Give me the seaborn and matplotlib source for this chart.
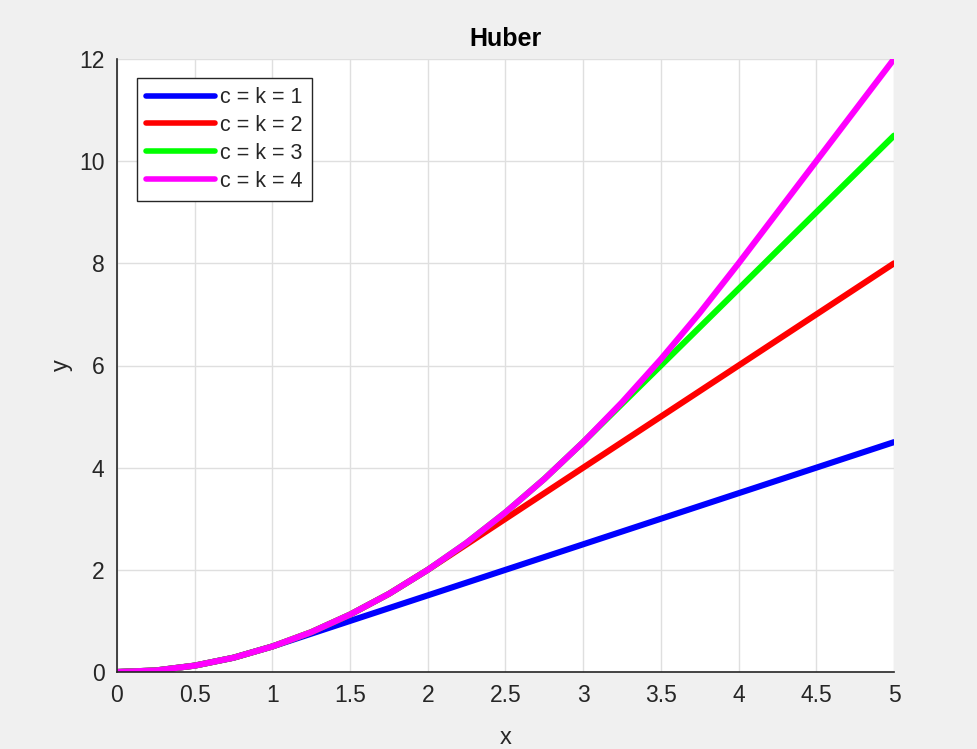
import numpy as np
import pandas as pd
import matplotlib
matplotlib.use('Agg')
import matplotlib.pyplot as plt
import seaborn as sns

# x positions read along the axis
x = [0, 0.25, 0.5, 0.75, 1, 1.25, 1.5, 1.75, 2, 2.25, 2.5,
     2.75, 3, 3.25, 3.5, 3.75, 4, 4.25, 4.5, 4.75, 5]

# curve values
y_c1 = [0, 0.03, 0.125, 0.28, 0.5, 0.75, 1, 1.25, 1.5, 1.75, 2,
        2.25, 2.5, 2.75, 3, 3.25, 3.5, 3.75, 4, 4.25, 4.5]
y_c2 = [0, 0.03, 0.125, 0.28, 0.5, 0.78, 1.125, 1.53, 2, 2.5, 3,
        3.5, 4, 4.5, 5, 5.5, 6, 6.5, 7, 7.5, 8]
y_c3 = [0, 0.03, 0.125, 0.28, 0.5, 0.78, 1.125, 1.53, 2, 2.53, 3.125,
        3.78, 4.5, 5.25, 6, 6.75, 7.5, 8.25, 9, 9.75, 10.5]
y_c4 = [0, 0.03, 0.125, 0.28, 0.5, 0.78, 1.125, 1.53, 2, 2.53, 3.125,
        3.78, 4.5, 5.28, 6.125, 7.03, 8, 9, 10, 11, 12]

labels = ['c = k = 1', 'c = k = 2', 'c = k = 3', 'c = k = 4']
colors = ['#0000ff', '#ff0000', '#00ff00', '#ff00ff']

x_ticks = [0, 0.5, 1, 1.5, 2, 2.5, 3, 3.5, 4, 4.5, 5]
x_ticklabels = ['0', '0.5', '1', '1.5', '2', '2.5', '3', '3.5', '4', '4.5', '5']
y_ticks = [0, 2, 4, 6, 8, 10, 12]

# long form table for seaborn
df = pd.DataFrame({
    'x': x * 4,
    'y': y_c1 + y_c2 + y_c3 + y_c4,
    'curve': [l for l in labels for _ in x],
})

sns.set_style('white')
plt.rcParams['font.family'] = ['Liberation Sans', 'DejaVu Sans']

fig = plt.figure(figsize=(9.78, 7.49), dpi=100, facecolor='#f0f0f0')
ax = fig.add_axes([117 / 978, 1 - 672 / 749, 777 / 978, 613 / 749])
ax.set_facecolor('white')

sns.lineplot(data=df, x='x', y='y', hue='curve', palette=colors,
             hue_order=labels, linewidth=4.4, ax=ax, sort=False)

ax.set_xlim(0, 5)
ax.set_ylim(0, 12)
ax.set_xticks(x_ticks)
ax.set_xticklabels(x_ticklabels)
ax.set_yticks(y_ticks)
ax.grid(True, color='#dfdfdf', linewidth=1)
ax.set_axisbelow(True)

for side in ['top', 'right']:
    ax.spines[side].set_visible(False)
for side in ['left', 'bottom']:
    ax.spines[side].set_color('#262626')
    ax.spines[side].set_linewidth(1.2)

ax.tick_params(direction='in', length=5, width=1.2, color='#262626',
               labelcolor='#262626', labelsize=16.5, pad=9)

ax.set_title('Huber', fontsize=18, fontweight='bold', color='black', pad=9)
ax.set_xlabel('x', fontsize=17, color='#262626', labelpad=14)
ax.set_ylabel('y', fontsize=17, color='#262626', labelpad=4)

leg = ax.legend(loc='upper left', bbox_to_anchor=(20 / 777, 1 - 19 / 613),
                borderaxespad=0, fontsize=15.5, handlelength=3.2,
                handletextpad=0.25, labelspacing=0.32, borderpad=0.42,
                fancybox=False, framealpha=1, edgecolor='#262626', title=None)
leg.get_frame().set_linewidth(1.0)
for line in leg.get_lines():
    line.set_linewidth(4)

fig.savefig('out.png', dpi=100, facecolor=fig.get_facecolor())
